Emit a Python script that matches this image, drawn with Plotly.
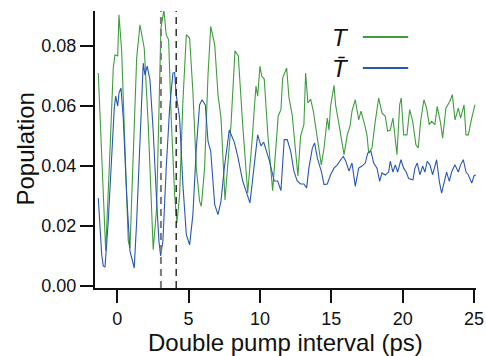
import plotly.graph_objects as go

# Time axis (ps) and populations
t_T = [-1.33, -0.81, -0.51, -0.28, -0.16, 0.03, 0.12, 0.31, 0.54, 0.77, 0.89, 1.12, 1.36, 1.59, 1.89,
       2.17, 2.41, 2.52, 2.76, 2.92, 3.06, 3.27, 3.43, 3.60, 3.78, 4.02, 4.18, 4.37, 4.60, 4.84, 5.07,
       5.30, 5.54, 5.77, 5.89, 6.12, 6.36, 6.55, 6.83, 7.06, 7.27, 7.55, 7.74, 7.97, 8.25, 8.48, 8.79,
       9.14, 9.44, 9.72, 9.84, 10.00, 10.12, 10.30, 10.56, 10.89, 11.28, 11.47, 11.59, 11.87, 12.03,
       12.26, 12.66, 12.85, 13.08, 13.20, 13.36, 13.55, 13.74, 14.02, 14.30, 14.49, 14.72, 14.84, 14.95,
       15.19, 15.30, 15.54, 15.89, 16.12, 16.31, 16.45, 16.68, 16.92, 17.08, 17.31, 17.50, 17.62, 17.85,
       18.08, 18.32, 18.55, 18.78, 18.95, 19.13, 19.32, 19.48, 19.60, 19.79, 19.90, 20.07, 20.30, 20.49,
       20.70, 20.93, 21.09, 21.26, 21.49, 21.68, 21.86, 22.03, 22.26, 22.42, 22.66, 22.80, 23.03, 23.31,
       23.48, 23.67, 23.90, 24.06, 24.30, 24.44, 24.60, 24.84, 25.07]
T = [0.071, 0.0117, 0.045, 0.0727, 0.0771, 0.0767, 0.0904, 0.0783, 0.046, 0.015, 0.0127, 0.0427, 0.076,
     0.0871, 0.0793, 0.0538, 0.0238, 0.0121, 0.026, 0.054, 0.086, 0.092, 0.0838, 0.0821, 0.056, 0.0304,
     0.021, 0.0304, 0.0616, 0.0838, 0.0827, 0.0649, 0.0393, 0.0282, 0.0266, 0.0393, 0.0704, 0.0866,
     0.0804, 0.0638, 0.056, 0.0287, 0.0404, 0.0538, 0.0784, 0.0767, 0.0538, 0.031, 0.048, 0.0667, 0.0633,
     0.0733, 0.07, 0.069, 0.05, 0.0318, 0.0567, 0.0588, 0.0693, 0.0727, 0.063, 0.057, 0.0367, 0.050,
     0.0538, 0.071, 0.061, 0.0623, 0.0583, 0.05, 0.0404, 0.046, 0.056, 0.052, 0.06, 0.0669, 0.0604,
     0.0538, 0.0438, 0.0504, 0.0533, 0.0583, 0.0621, 0.0554, 0.0583, 0.0543, 0.0504, 0.0443, 0.046,
     0.0549, 0.0627, 0.0577, 0.0566, 0.0516, 0.052, 0.056, 0.0493, 0.0438, 0.0604, 0.0627, 0.0504,
     0.0504, 0.0588, 0.055, 0.0471, 0.046, 0.0549, 0.0621, 0.0593, 0.0538, 0.0549, 0.0538, 0.0599,
     0.0543, 0.0493, 0.0593, 0.0616, 0.0638, 0.0554, 0.0593, 0.056, 0.0604, 0.0504, 0.0504, 0.056, 0.0605]

t_Tbar = [-1.33, -1.09, -0.98, -0.86, -0.63, -0.39, -0.21, -0.11, 0.03, 0.12, 0.26, 0.42, 0.66, 0.89,
          1.05, 1.19, 1.36, 1.59, 1.82, 1.94, 2.10, 2.29, 2.52, 2.76, 2.92, 3.04, 3.20, 3.43, 3.67, 3.90,
          4.02, 4.13, 4.37, 4.60, 4.84, 5.07, 5.30, 5.54, 5.77, 5.94, 6.17, 6.36, 6.55, 6.83, 7.06, 7.27,
          7.50, 7.85, 8.20, 8.44, 8.79, 9.30, 9.60, 9.84, 10.07, 10.26, 10.65, 11.00, 11.24, 11.47, 11.70,
          11.91, 12.15, 12.38, 12.61, 12.85, 13.08, 13.27, 13.43, 13.67, 13.83, 14.02, 14.30, 14.49, 14.72,
          14.95, 15.19, 15.42, 15.66, 15.84, 16.01, 16.24, 16.45, 16.68, 16.92, 17.15, 17.38, 17.55, 17.78,
          17.97, 18.20, 18.39, 18.55, 18.78, 19.02, 19.13, 19.32, 19.48, 19.65, 19.88, 20.07, 20.25, 20.42,
          20.72, 20.86, 21.02, 21.21, 21.40, 21.56, 21.72, 21.91, 22.10, 22.38, 22.57, 22.73, 22.89, 23.08,
          23.27, 23.43, 23.66, 23.90, 24.06, 24.25, 24.44, 24.60, 24.84, 25.00, 25.12]
Tbar = [0.0293, 0.0104, 0.0067, 0.0063, 0.0217, 0.046, 0.0593, 0.0633, 0.06, 0.0643, 0.066, 0.056, 0.0304,
        0.0117, 0.0083, 0.006, 0.0217, 0.0483, 0.0743, 0.0704, 0.0733, 0.0688, 0.0516, 0.0283, 0.015, 0.01,
        0.015, 0.0393, 0.0593, 0.071, 0.0712, 0.0638, 0.056, 0.0338, 0.0171, 0.0137, 0.0238, 0.046, 0.0604,
        0.0621, 0.0604, 0.0482, 0.0449, 0.0271, 0.0238, 0.0283, 0.0393, 0.052, 0.048, 0.0433, 0.035, 0.0277,
        0.0404, 0.0504, 0.0467, 0.048, 0.042, 0.035, 0.035, 0.0318, 0.0488, 0.0488, 0.045, 0.0383, 0.035,
        0.034, 0.034, 0.0327, 0.0393, 0.046, 0.0477, 0.0427, 0.0382, 0.0338, 0.034, 0.0371, 0.0393, 0.0404,
        0.0421, 0.0432, 0.0417, 0.0383, 0.041, 0.0332, 0.0393, 0.04, 0.041, 0.0443, 0.0449, 0.041, 0.0393,
        0.0349, 0.0377, 0.037, 0.038, 0.0416, 0.038, 0.0404, 0.038, 0.0421, 0.0393, 0.038, 0.0358, 0.0354,
        0.0393, 0.041, 0.0371, 0.04, 0.038, 0.0416, 0.0404, 0.0371, 0.0421, 0.0349, 0.031, 0.0338, 0.038,
        0.0349, 0.038, 0.0404, 0.038, 0.0404, 0.0421, 0.038, 0.0371, 0.0343, 0.0367, 0.0371]

dashed_lines = [3.06, 4.13]
dashed_colors = ["#7a7a7a", "#111111"]

GREEN = "#3f9d3f"
BLUE = "#2a57b2"
FONT = "Liberation Sans, Arial, sans-serif"

fig = go.Figure()
fig.add_trace(go.Scatter(x=t_T, y=T, mode="lines", line=dict(color=GREEN, width=1.1), showlegend=False))
fig.add_trace(go.Scatter(x=t_Tbar, y=Tbar, mode="lines", line=dict(color=BLUE, width=1.1), showlegend=False))

for xv, c, w in zip(dashed_lines, dashed_colors, [2, 1.3]):
    fig.add_shape(type="line", xref="x", yref="paper", x0=xv, x1=xv, y0=0, y1=1,
                  line=dict(color=c, width=w, dash="7px,5px"), layer="above")

# legend (text left, line right)
for i, (lab, col) in enumerate([("<i>T</i>", GREEN), ("<i>T\u0304</i>", BLUE)]):
    yy = 0.906 - i * 0.112
    fig.add_annotation(xref="paper", yref="paper", x=0.672, y=yy, text=lab, showarrow=False,
                       xanchor="right", yanchor="middle", font=dict(size=24, color="#111", family=FONT))
    fig.add_shape(type="line", xref="paper", yref="paper", x0=0.703, x1=0.822, y0=yy, y1=yy,
                  line=dict(color=col, width=2))

# axis titles
fig.add_annotation(xref="paper", yref="paper", x=0.5, y=-0.195, text="Double pump interval (ps)",
                   showarrow=False, xanchor="center", yanchor="middle", font=dict(size=24, family=FONT))
fig.add_annotation(xref="paper", yref="paper", x=-0.1837, y=0.5, text="Population", textangle=-90,
                   showarrow=False, xanchor="center", yanchor="middle", font=dict(size=24, family=FONT))

fig.update_layout(
    width=486, height=356,
    margin=dict(l=95, r=10, t=11, b=68),
    plot_bgcolor="white", paper_bgcolor="white",
    font=dict(family=FONT, color="#111", size=18),
    xaxis=dict(range=[-1.56, 25.14], tickvals=[0, 5, 10, 15, 20, 25], ticks="outside", ticklen=13,
               tickwidth=2, tickcolor="#111", showline=True, linewidth=2, linecolor="#111",
               showgrid=False, zeroline=False, tickfont=dict(size=18), automargin=False),
    yaxis=dict(range=[-0.00067, 0.0917], tickvals=[0, 0.02, 0.04, 0.06, 0.08], tickformat=".2f",
               ticks="outside", ticklen=13, tickwidth=2, tickcolor="#111", showline=True, linewidth=2,
               linecolor="#111", showgrid=False, zeroline=False, tickfont=dict(size=18), automargin=False),
)

fig.write_html("out.html", config={"displayModeBar": False},
               post_script="document.body.style.margin='0';")
with open("out.html", encoding="utf-8") as f:
    html = f.read()
html = html.replace("<body>", '<body style="margin:0;padding:0;overflow:hidden">', 1)
with open("out.html", "w", encoding="utf-8") as f:
    f.write(html)
